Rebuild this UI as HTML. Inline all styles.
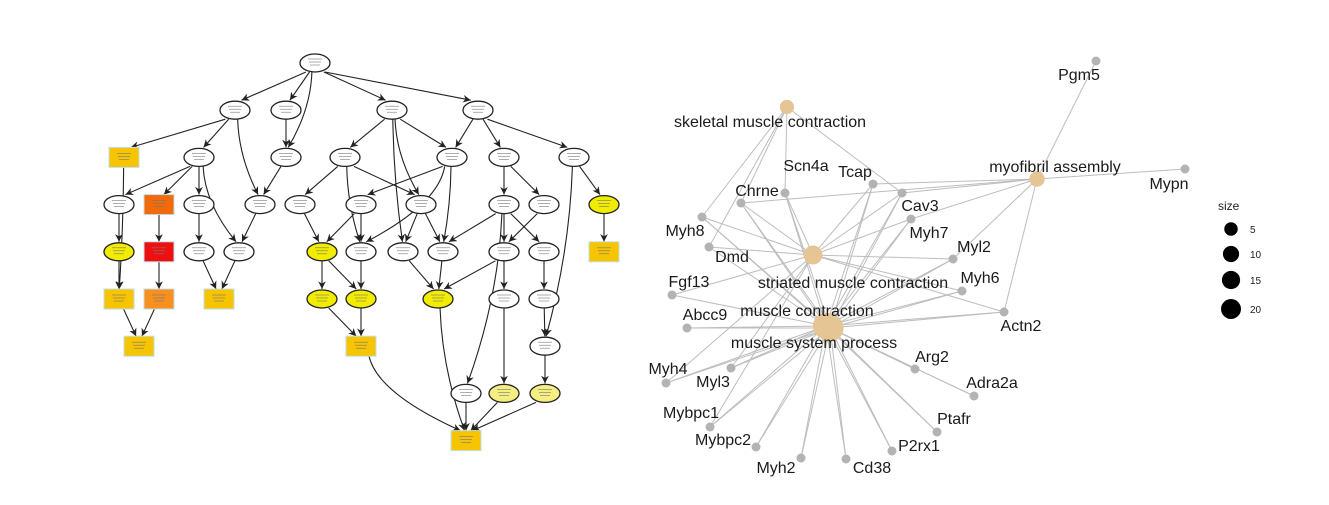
<!DOCTYPE html>
<html><head><meta charset="utf-8">
<style>
html,body{margin:0;padding:0;background:#fff;}
svg{display:block;font-family:"Liberation Sans",sans-serif;}
</style></head>
<body>
<svg id="chart" width="1329" height="505" viewBox="0 0 1329 505" xmlns="http://www.w3.org/2000/svg">
<defs>
<marker id="arr" viewBox="0 0 10 10" refX="10" refY="5" markerWidth="7" markerHeight="7" orient="auto-start-reverse">
<path d="M0,0 L10,5 L0,10 L3,5 z" fill="#222"/>
</marker>
</defs>
<g id="dag"></g>
<g id="net"></g>
<g id="legend"></g>
</svg>
<script>
// ---- DAG data ----
const dagIds = ["A","B","C","D","E","F","G","H","I","J","K","L","M","N","O","P","Q","R","S","T","U","V","W","X","Y","Z","AA","AB","AC","AD","AE","AF","AG","AH","AI","AJ","AK","AL","AM","AN","AO","AP","AQ","AR","AS","AT","AU","AV"];
const dagX = [315,235,286,392,478,124,199,286,345,452,504,574,119,159,199,260,300,361,421,504,544,604,119,159,199,239,322,361,403,443,504,544,604,119,159,219,322,361,438,504,544,139,361,545,466,504,545,466];
const dagRow = [0,1,1,1,1,2,2,2,2,2,2,2,3,3,3,3,3,3,3,3,3,3,4,4,4,4,4,4,4,4,4,4,4,5,5,5,5,5,5,5,5,6,6,6,7,7,7,8];
const dagType = ["e","e","e","e","e","r","e","e","e","e","e","e","e","r","e","e","e","e","e","e","e","e","e","r","e","e","e","e","e","e","e","e","r","r","r","r","e","e","e","e","e","r","r","e","e","e","e","r"];
const dagFill = ["#fff","#fff","#fff","#fff","#fff","#f6c400","#fff","#fff","#fff","#fff","#fff","#fff","#fff","#f26a0a","#fff","#fff","#fff","#fff","#fff","#fff","#fff","#f2ec00","#f2ec00","#ee1010","#fff","#fff","#f2ec00","#fff","#fff","#fff","#fff","#fff","#f6c400","#f6c400","#f7901e","#f6c400","#f2ec00","#f2ec00","#f2ec00","#fff","#fff","#f6c400","#f6c400","#fff","#fff","#f4ef80","#f4ef80","#f6c400"];
const dagEdges = [["A","B"],["A","C"],["A","H"],["A","D"],["A","E"],["B","F"],["B","G"],["B","P"],["C","H"],["H","P"],["G","M"],["G","N"],["G","O"],["G","Z"],["D","I"],["D","S"],["D","J"],["D","AC"],["E","J"],["E","K"],["E","L"],["F","AH"],["I","Q"],["I","AB"],["I","S"],["J","R"],["J","AB"],["J","AD"],["Q","AA"],["R","AA"],["R","AB"],["S","AC"],["S","AD"],["K","T"],["K","U"],["T","AD"],["T","AE"],["T","AF"],["T","AS"],["U","AE"],["L","V"],["L","AR"],["V","AG"],["M","W"],["W","AH"],["N","X"],["X","AI"],["O","Y"],["P","Z"],["Y","AJ"],["Z","AJ"],["AH","AP"],["AI","AP"],["AA","AK"],["AA","AL"],["AB","AL"],["AC","AM"],["AD","AM"],["AE","AM"],["AE","AN"],["AF","AO"],["AK","AQ"],["AL","AQ"],["AM","AV"],["AQ","AV"],["AN","AT"],["AO","AR"],["AR","AU"],["AS","AV"],["AT","AV"],["AU","AV"]];

// ---- network data ----
const catNames = ["skeletal muscle contraction","myofibril assembly","striated muscle contraction","muscle contraction","muscle system process"];
const catX = [787,1037,813,826,830];
const catY = [107,179,255,326,328];
const catSize = [3,4,8,21,23];
const catLabelX = [770,1055,853,807,814];
const catLabelY = [122,167,283,311,343];
const geneNames = ["Pgm5","Mypn","Scn4a","Chrne","Tcap","Cav3","Myh7","Myh8","Dmd","Myl2","Fgf13","Myh6","Abcc9","Actn2","Arg2","Myh4","Myl3","Adra2a","Mybpc1","Ptafr","Mybpc2","P2rx1","Myh2","Cd38"];
const geneX = [1096,1185,785,741,873,902,911,702,709,953,672,962,687,1004,915,666,731,974,710,937,756,892,801,846];
const geneY = [61,169,193,203,184,193,219,217,247,259,295,291,328,312,369,383,368,396,427,432,447,451,458,459];
const geneLabelX = [1079,1169,806,757,855,920,929,685,732,974,689,980,705,1021,932,668,713,992,691,954,723,919,776,872];
const geneLabelY = [75,184,166,191,172,206,233,231,257,247,282,278,315,326,357,369,382,383,413,419,440,446,468,468];
const netEdges = [[0,"Myh8"],[0,"Dmd"],[0,"Chrne"],[0,"Scn4a"],[0,"Cav3"],
[1,"Pgm5"],[1,"Mypn"],[1,"Tcap"],[1,"Cav3"],[1,"Myh7"],[1,"Myl2"],[1,"Actn2"],[1,"Chrne"],
[2,"Myh8"],[2,"Chrne"],[2,"Scn4a"],[2,"Tcap"],[2,"Cav3"],[2,"Myh7"],[2,"Myl2"],[2,"Myh6"],[2,"Fgf13"],[2,"Dmd"],[2,"Myh4"],[2,"Myl3"],[2,"Mybpc1"],[2,"Actn2"],
[3,"Scn4a"],[3,"Chrne"],[3,"Tcap"],[3,"Cav3"],[3,"Myh7"],[3,"Myh8"],[3,"Dmd"],[3,"Myl2"],[3,"Fgf13"],[3,"Myh6"],[3,"Abcc9"],[3,"Actn2"],[3,"Arg2"],[3,"Myh4"],[3,"Myl3"],[3,"Adra2a"],[3,"Mybpc1"],[3,"Ptafr"],[3,"Mybpc2"],[3,"P2rx1"],[3,"Myh2"],[3,"Cd38"],
[4,"Scn4a"],[4,"Chrne"],[4,"Tcap"],[4,"Cav3"],[4,"Myh7"],[4,"Myh8"],[4,"Myl2"],[4,"Myh6"],[4,"Abcc9"],[4,"Actn2"],[4,"Arg2"],[4,"Myh4"],[4,"Myl3"],[4,"Adra2a"],[4,"Mybpc1"],[4,"Ptafr"],[4,"Mybpc2"],[4,"P2rx1"],[4,"Myh2"],[4,"Cd38"]];
const legendSizes = [5,10,15,20];

const NS="http://www.w3.org/2000/svg";
function mk(tag,attrs,parent){const e=document.createElementNS(NS,tag);for(const k in attrs)e.setAttribute(k,attrs[k]);parent.appendChild(e);return e;}
const rowY = r => 63 + r*47.2;
const dag=document.getElementById('dag');
const idx={};dagIds.forEach((d,i)=>idx[d]=i);
const RX=15,RY=9;
// edges
dagEdges.forEach(([a,b])=>{
  const i=idx[a],j=idx[b];
  const x1=dagX[i],y1=rowY(dagRow[i]),x2=dagX[j],y2=rowY(dagRow[j]);
  const dx=x2-x1,dy=y2-y1,L=Math.hypot(dx,dy);
  const sx=x1+dx/L*RX*0.7, sy=y1+RY;
  const ex=x2-dx/L*RX*0.5, ey=y2-RY-1;
  let d;
  if(dagRow[j]-dagRow[i]>1){const cx=(sx+ex)/2+(dx>0?-12:12);d=`M${sx},${sy} Q${x1+dx*0.15},${(sy+ey)/2} ${ex},${ey}`;}
  else d=`M${sx},${sy} L${ex},${ey}`;
  const p=mk('path',{d:d,fill:'none',stroke:'#222','stroke-width':1.1,'marker-end':'url(#arr)'},dag);
  
  
});
dagIds.forEach((id,i)=>{
  const x=dagX[i],y=rowY(dagRow[i]);
  let el;
  if(dagType[i]==="e") el=mk('ellipse',{cx:x,cy:y,rx:RX,ry:RY,fill:dagFill[i],stroke:'#222','stroke-width':1.3},dag);
  else el=mk('rect',{x:x-15,y:y-10,width:30,height:20,fill:dagFill[i],stroke:'#bfe0e8','stroke-width':1},dag);
  
  
  for(let k=0;k<3;k++){mk('line',{x1:x-7+k,y1:y-4+k*3,x2:x+7-k,y2:y-4+k*3,stroke:'#777','stroke-width':0.6},dag);}
});
// network
const net=document.getElementById('net');
const gi={};geneNames.forEach((g,i)=>gi[g]=i);
netEdges.forEach(([c,g])=>{
  const j=gi[g];
  const l=mk('line',{x1:catX[c],y1:catY[c],x2:geneX[j],y2:geneY[j],stroke:'#bdbdbd','stroke-width':1},net);
  
  
});
const rOf = s => 3.5+Math.sqrt(s)*2.1;
catNames.forEach((n,i)=>{
  const c=mk('circle',{cx:catX[i],cy:catY[i],r:rOf(catSize[i]),fill:'#e6c594'},net);
  
  
});
geneNames.forEach((n,i)=>{
  const c=mk('circle',{cx:geneX[i],cy:geneY[i],r:4.5,fill:'#b3b3b3'},net);
  
  
});
catNames.forEach((n,i)=>{
  const t=mk('text',{x:catLabelX[i],y:catLabelY[i]+5,'text-anchor':'middle','font-size':16,fill:'#1a1a1a'},net);
  t.textContent=n;
  
  
});
geneNames.forEach((n,i)=>{
  const t=mk('text',{x:geneLabelX[i],y:geneLabelY[i]+5,'text-anchor':'middle','font-size':16,fill:'#1a1a1a'},net);
  t.textContent=n;
  
  
});
// legend
const lg=document.getElementById('legend');
const lt=mk('text',{x:1218,y:210,'font-size':12,fill:'#222'},lg);
lt.textContent='size';


const ly=[229,254,280,309];
legendSizes.forEach((s,k)=>{
  const c=mk('circle',{cx:1231,cy:ly[k],r:3.5+Math.sqrt(s)*1.45,fill:'#000'},lg);
  
  
  const t=mk('text',{x:1250,y:ly[k]+4,'font-size':10,fill:'#222'},lg);
  t.textContent=s;
  
  
});
</script>
</body></html>
